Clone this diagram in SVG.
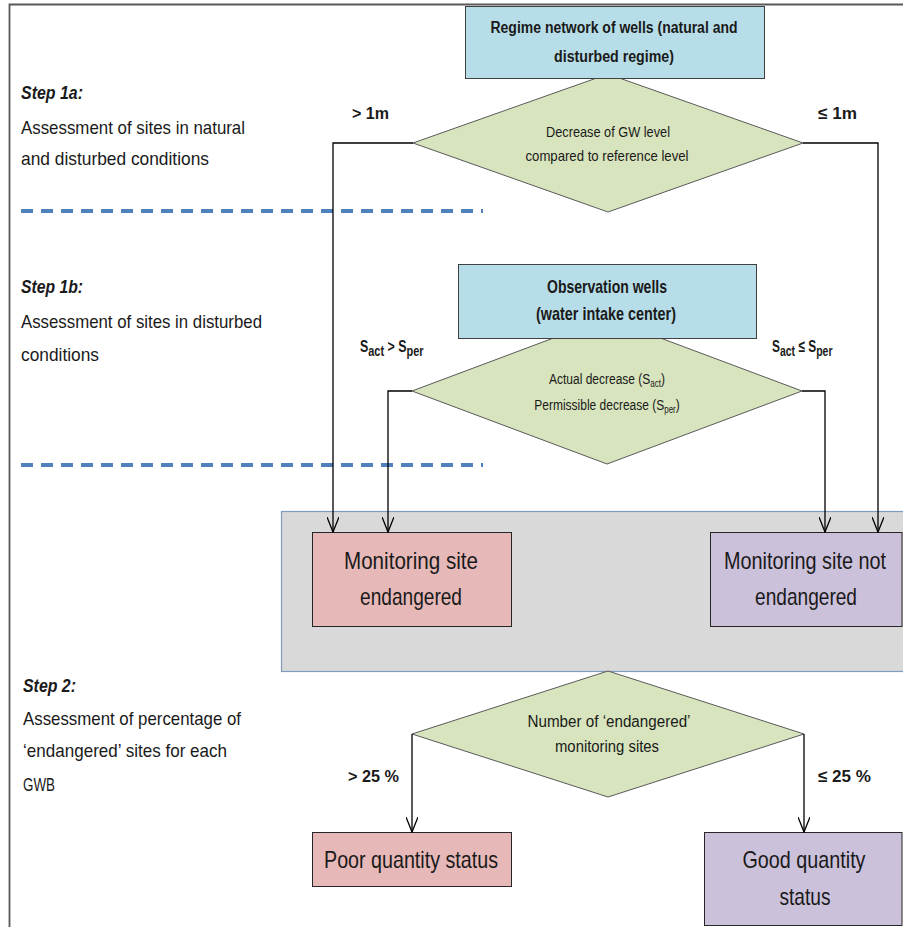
<svg xmlns="http://www.w3.org/2000/svg" width="903" height="927" viewBox="0 0 903 927">
<style>
text{font-family:"Liberation Sans",Arial,sans-serif;fill:#1a1a1a}
.side{font-size:19px}
.step{font-size:19px;font-weight:bold;font-style:italic}
.lbl{font-size:17px;font-weight:bold}
.box{font-size:24px}
.dia{font-size:15px}
.hdr{font-weight:bold}
.c{text-anchor:middle}
.conn{fill:none;stroke:#000;stroke-width:1.3}
.dash{stroke:#4f81bd;stroke-width:4;stroke-dasharray:12 8;fill:none}
.diamond{fill:#d7e4bd;stroke:#595959;stroke-width:1}
.blue{fill:#b7dee8;stroke:#404040;stroke-width:1}
.red{fill:#e6b9b8;stroke:#262626;stroke-width:1}
.purple{fill:#ccc1da;stroke:#262626;stroke-width:1}
</style>
<defs>
<marker id="arr" viewBox="0 0 16 12" refX="15" refY="6" markerWidth="16" markerHeight="12" markerUnits="userSpaceOnUse" orient="auto">
<path d="M0,0 L15,6 L0,12" fill="none" stroke="#000" stroke-width="1.3"/>
</marker>
</defs>
<rect x="0" y="0" width="903" height="927" fill="#fff"/>
<g id="frame">
<path d="M9.5,927 V4.5 H903" fill="none" stroke="#595959" stroke-width="1.8"/>
</g>
<g id="separators">
<line class="dash" x1="21" y1="211" x2="483" y2="211"/>
<line class="dash" x1="21" y1="465" x2="483" y2="465"/>
</g>
<g id="side-text">
<text class="step" x="21" y="99" textLength="62" lengthAdjust="spacingAndGlyphs">Step 1a:</text>
<text class="side" x="21" y="134" textLength="224" lengthAdjust="spacingAndGlyphs">Assessment of sites in natural</text>
<text class="side" x="21" y="165" textLength="188" lengthAdjust="spacingAndGlyphs">and disturbed conditions</text>
<text class="step" x="21" y="293" textLength="62" lengthAdjust="spacingAndGlyphs">Step 1b:</text>
<text class="side" x="21" y="328" textLength="241" lengthAdjust="spacingAndGlyphs">Assessment of sites in disturbed</text>
<text class="side" x="21" y="361" textLength="78" lengthAdjust="spacingAndGlyphs">conditions</text>
<text class="step" x="23" y="692" textLength="53" lengthAdjust="spacingAndGlyphs">Step 2:</text>
<text class="side" x="23" y="725" textLength="218" lengthAdjust="spacingAndGlyphs">Assessment of percentage of</text>
<text class="side" x="23" y="757" textLength="204" lengthAdjust="spacingAndGlyphs">‘endangered’ sites for each</text>
<text class="side" x="23" y="791" textLength="32" lengthAdjust="spacingAndGlyphs">GWB</text>
</g>
<g id="group-box">
<rect x="281.5" y="511.5" width="640" height="160" fill="#d9d9d9" stroke="#7f9cc0" stroke-width="1.2"/>
</g>
<g id="decision1">
<polygon class="diamond" points="413,143 608,74 803,143 608,212"/>
<text class="dia c" x="608" y="137" textLength="124" lengthAdjust="spacingAndGlyphs">Decrease of GW level</text>
<text class="dia c" x="607" y="161" textLength="163" lengthAdjust="spacingAndGlyphs">compared to reference level</text>
</g>
<g id="regime-network">
<rect class="blue" x="465.5" y="6.5" width="299" height="72"/>
<text class="hdr c" x="614" y="33" font-size="16" textLength="247" lengthAdjust="spacingAndGlyphs">Regime network of wells (natural and</text>
<text class="hdr c" x="614" y="62" font-size="16" textLength="120" lengthAdjust="spacingAndGlyphs">disturbed regime)</text>
</g>
<g id="decision2">
<polygon class="diamond" points="412,391 607,318 802,391 607,464"/>
<text class="dia c" transform="translate(607,384) scale(0.8,1)">Actual decrease (S<tspan font-size="10" dy="3">act</tspan><tspan dy="-3">)</tspan></text>
<text class="dia c" transform="translate(607,410) scale(0.8,1)">Permissible decrease (S<tspan font-size="10" dy="3">per</tspan><tspan dy="-3">)</tspan></text>
</g>
<g id="observation-wells">
<rect class="blue" x="458.5" y="264.5" width="298" height="74"/>
<text class="hdr c" x="607" y="293" font-size="19" textLength="120" lengthAdjust="spacingAndGlyphs">Observation wells</text>
<text class="hdr c" x="606" y="320" font-size="19" textLength="140" lengthAdjust="spacingAndGlyphs">(water intake center)</text>
</g>
<g id="site-endangered">
<rect class="red" x="312.5" y="532.5" width="199" height="94"/>
<text class="box c" x="411" y="569" textLength="134" lengthAdjust="spacingAndGlyphs">Monitoring site</text>
<text class="box c" x="411" y="605" textLength="102" lengthAdjust="spacingAndGlyphs">endangered</text>
</g>
<g id="site-not-endangered">
<rect class="purple" x="710.5" y="532.5" width="191.5" height="94"/>
<text class="box c" x="805" y="569" textLength="162" lengthAdjust="spacingAndGlyphs">Monitoring site not</text>
<text class="box c" x="806" y="605" textLength="102" lengthAdjust="spacingAndGlyphs">endangered</text>
</g>
<g id="decision3">
<polygon class="diamond" points="412,734 608,671 804,734 608,797"/>
<text class="c" x="609" y="727" font-size="16" textLength="163" lengthAdjust="spacingAndGlyphs">Number of ‘endangered’</text>
<text class="c" x="607" y="752" font-size="16" textLength="104" lengthAdjust="spacingAndGlyphs">monitoring sites</text>
</g>
<g id="poor-status">
<rect class="red" x="312.5" y="832.5" width="199" height="54"/>
<text class="box c" x="411" y="868" textLength="174" lengthAdjust="spacingAndGlyphs">Poor quantity status</text>
</g>
<g id="good-status">
<rect class="purple" x="704.5" y="832.5" width="197.5" height="93"/>
<text class="box c" x="804" y="868" textLength="123" lengthAdjust="spacingAndGlyphs">Good quantity</text>
<text class="box c" x="805" y="905" textLength="51" lengthAdjust="spacingAndGlyphs">status</text>
</g>
<g id="connectors">
<path class="conn" d="M413,143 H333 V532" marker-end="url(#arr)"/>
<path class="conn" d="M803,143 H878 V532" marker-end="url(#arr)"/>
<path class="conn" d="M412,391 H388 V532" marker-end="url(#arr)"/>
<path class="conn" d="M802,391 H825 V532" marker-end="url(#arr)"/>
<path class="conn" d="M412,734 V832" marker-end="url(#arr)"/>
<path class="conn" d="M804,734 V832" marker-end="url(#arr)"/>
</g>
<g id="connector-labels">
<text class="lbl" x="352" y="119" textLength="37" lengthAdjust="spacingAndGlyphs">&gt; 1m</text>
<text class="lbl" x="818" y="119" textLength="39" lengthAdjust="spacingAndGlyphs">≤ 1m</text>
<text class="lbl" transform="translate(360,352) scale(0.73,1)" font-size="22">S<tspan font-size="15" dy="4">act</tspan><tspan dy="-4"> &gt; S</tspan><tspan font-size="15" dy="4">per</tspan></text>
<text class="lbl" transform="translate(772,352) scale(0.7,1)" font-size="22">S<tspan font-size="15" dy="4">act</tspan><tspan dy="-4"> ≤ S</tspan><tspan font-size="15" dy="4">per</tspan></text>
<text class="lbl" x="348" y="782" font-size="18" textLength="51" lengthAdjust="spacingAndGlyphs">&gt; 25 %</text>
<text class="lbl" x="818" y="782" font-size="18" textLength="53" lengthAdjust="spacingAndGlyphs">≤ 25 %</text>
</g>
</svg>
